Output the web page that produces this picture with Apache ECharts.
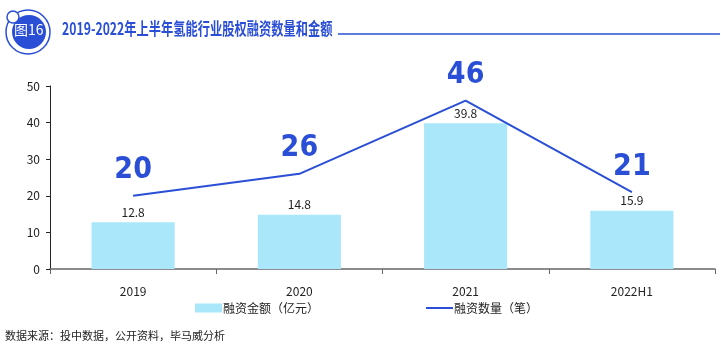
<!DOCTYPE html>
<html>
<head>
<meta charset="utf-8">
<script src="https://cdn.jsdelivr.net/npm/echarts@6/dist/echarts.min.js"></script>
<style>
html,body{margin:0;padding:0;background:#fff;}
#main{width:721px;height:351px;}
</style>
</head>
<body>
<div id="main"></div>
<script>
var years = ['2019', '2020', '2021', '2022H1'];
var amounts = [12.8, 14.8, 39.8, 15.9];   // 融资金额（亿元）
var counts = [20, 26, 46, 21];            // 融资数量（笔）
var yTicks = [0, 10, 20, 30, 40, 50];

var blue = '#2a4fd6';
var font = '"Noto Sans CJK SC", "Noto Sans", sans-serif';

var myChart = echarts.init(document.getElementById('main'));
var option = {
    animation: false,
    textStyle: { fontFamily: font },
    graphic: [
        { type: 'circle', shape: { cx: 28, cy: 32, r: 22 }, style: { fill: 'none', stroke: blue, lineWidth: 1.5 } },
        { type: 'circle', shape: { cx: 29, cy: 32, r: 17 }, style: { fill: blue } },
        { type: 'circle', shape: { cx: 13, cy: 17, r: 6 }, style: { fill: '#fff', stroke: blue, lineWidth: 1.5 } },
        { type: 'text', left: 14, top: 23, style: { text: '图16', fill: '#fff', font: '14px ' + font } },
        { type: 'text', x: 62, y: 20, scaleX: 0.72, style: { text: '2019-2022年上半年氢能行业股权融资数量和金额', fill: blue, font: 'bold 17px ' + font } },
        { type: 'line', shape: { x1: 338, y1: 34, x2: 720, y2: 34 }, style: { stroke: blue, lineWidth: 1.5 } },
        { type: 'text', left: 5, top: 330, style: { text: '数据来源：投中数据，公开资料，毕马威分析', fill: '#222', font: '11px ' + font } }
    ],
    legend: {
        bottom: 32,
        left: 190,
        itemGap: 106,
        itemWidth: 27,
        itemHeight: 9,
        textStyle: { fontSize: 12, color: '#222', padding: [0, 0, 0, -4] },
        data: [
            { name: '融资金额（亿元）', icon: 'rect' },
            { name: '融资数量（笔）', itemStyle: { opacity: 0 } }
        ]
    },
    grid: { left: 50, right: 6, top: 86, bottom: 82 },
    xAxis: {
        type: 'category',
        data: years,
        axisLine: { lineStyle: { color: '#666', width: 1.5 } },
        axisTick: { show: true, length: 5, lineStyle: { color: '#666' } },
        axisLabel: { color: '#222', fontSize: 12, margin: 16 }
    },
    yAxis: {
        type: 'value',
        min: yTicks[0],
        max: yTicks[yTicks.length - 1],
        interval: 10,
        splitLine: { show: false },
        axisLine: { show: true, lineStyle: { color: '#222' } },
        axisTick: { show: true, length: 4, lineStyle: { color: '#222' } },
        axisLabel: { color: '#222', fontSize: 12, margin: 10 }
    },
    series: [
        {
            name: '融资金额（亿元）',
            type: 'bar',
            data: amounts,
            barWidth: '50%',
            itemStyle: { color: '#abe7fb' },
            label: { show: true, position: 'top', color: '#222', fontSize: 12, distance: 4 }
        },
        {
            name: '融资数量（笔）',
            type: 'line',
            data: counts,
            symbol: 'circle',
            symbolSize: 0.5,
            showSymbol: true,
            lineStyle: { color: blue, width: 2 },
            itemStyle: { color: blue },
            label: {
                show: true, position: 'top', distance: 10,
                color: blue, fontSize: 30, fontWeight: 'bold',
                fontFamily: '"DejaVu Sans Condensed", "Liberation Sans Narrow", sans-serif'
            }
        }
    ]
};
myChart.setOption(option);
</script>
</body>
</html>
